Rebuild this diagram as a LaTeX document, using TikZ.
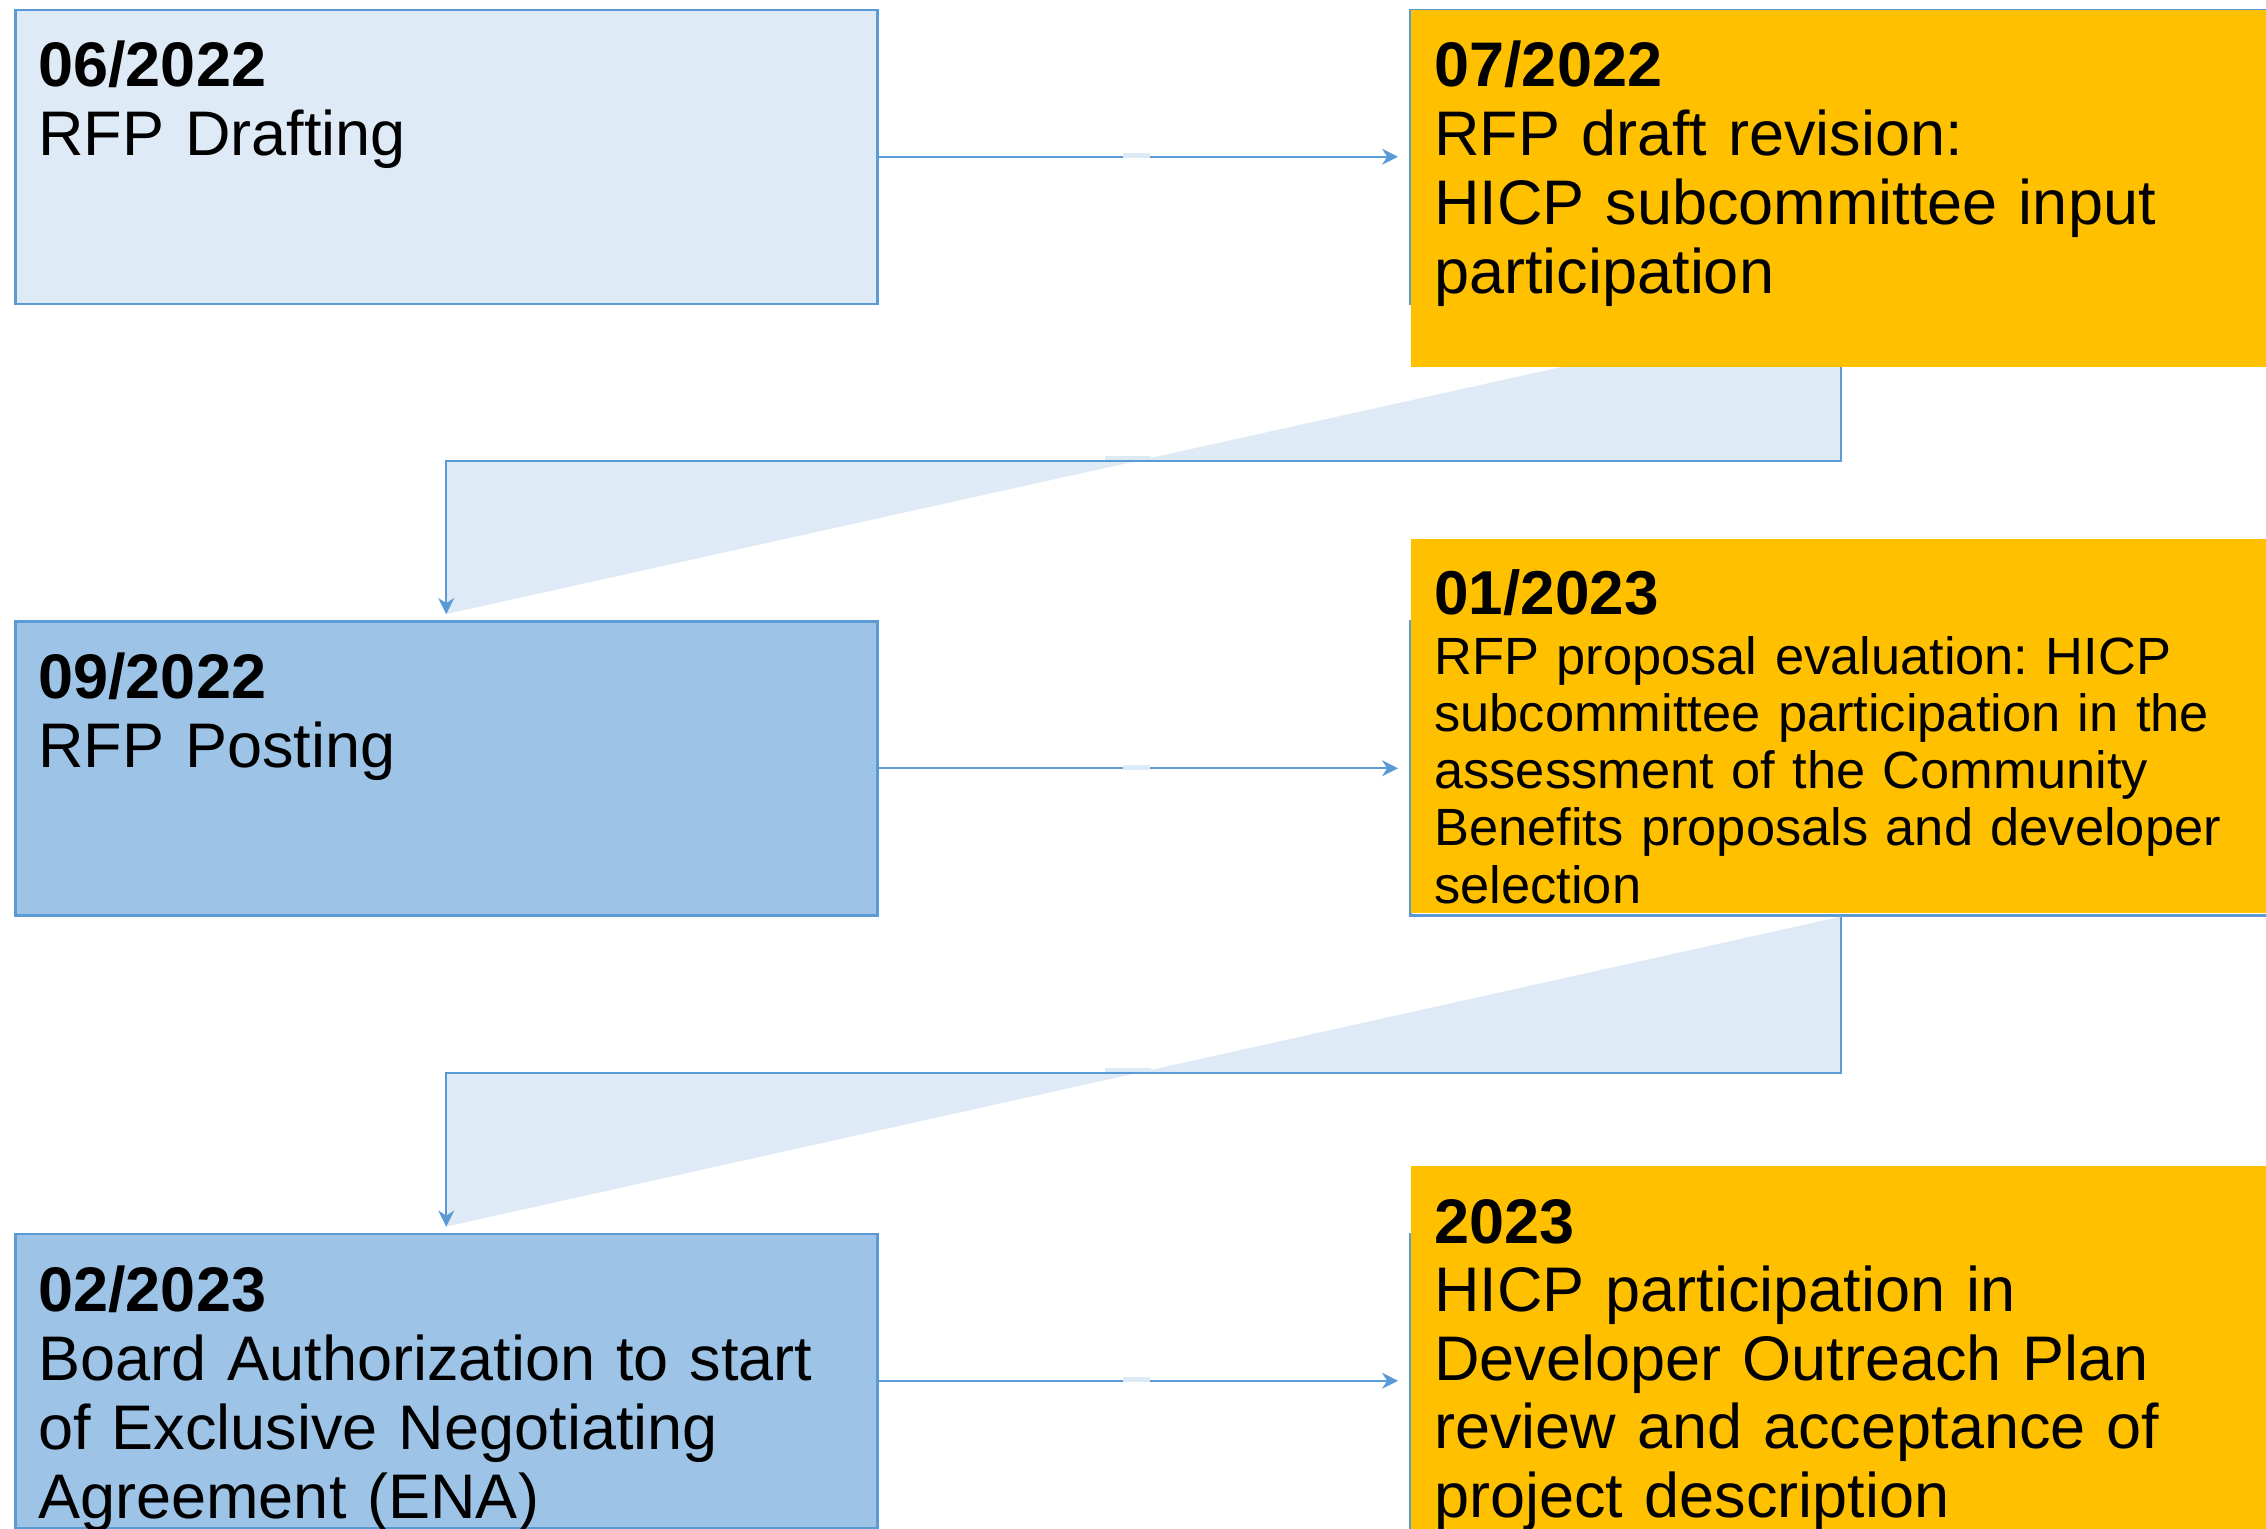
\documentclass[tikz,border=0pt]{standalone}
\usepackage{fontspec}
\setmainfont{Liberation Sans}
\usetikzlibrary{arrows.meta}
\definecolor{bordc}{RGB}{91,155,213}
\definecolor{lightc}{RGB}{222,235,247}
\definecolor{medc}{RGB}{157,195,230}
\definecolor{orangec}{RGB}{255,192,0}
\frenchspacing
\begin{document}
\begin{tikzpicture}[x=0.5pt,y=-0.5pt,
  stagebox/.style={draw=bordc,line width=1.25pt,rectangle,inner sep=0pt,anchor=north west,minimum width=431pt,minimum height=147pt},
  orangebox/.style={fill=orangec,rectangle,inner sep=0pt,anchor=north west,minimum width=429.75pt},
  flow/.style={draw=bordc,line width=1pt,-{Stealth[length=8pt,width=8pt]}},
  gapmark/.style={fill=lightc},
  txt/.style={inner sep=0pt,anchor=base west,align=left,text width=420pt},
  bigfont/.style={font=\fontsize{31.5pt}{34.5pt}\selectfont},
]
\useasboundingbox (0,0) rectangle (2266,1528);
\fill[white] (0,0) rectangle (2266,1528);

% left boxes
\node[stagebox,fill=lightc] (b1) at (14,8.5) {};
\node[stagebox,fill=medc] (b3) at (14,620) {};
\node[stagebox,fill=medc] (b5) at (14,1232.5) {};
% right outlines
\node[stagebox] (b2o) at (1409,8.5) {};
\node[stagebox] (b4o) at (1409,620) {};
\node[stagebox] (b6o) at (1409,1232.5) {};

% horizontal arrows
\draw[flow,shorten >=5.5pt] (b1.east) -- (b2o.west);
\draw[flow,shorten >=5.5pt] (b3.east) -- (b4o.west);
\draw[flow,shorten >=5.5pt] (b5.east) -- (b6o.west);
\fill[gapmark] (1123,153) rectangle (1150,157.5);
\fill[gapmark] (1123,765) rectangle (1150,769.5);
\fill[gapmark] (1123,1377) rectangle (1150,1381.5);

% elbow connectors
\coordinate (m1) at (0,461);
\coordinate (m2) at (0,1073);
\fill[lightc] (b2o.south) -- (b2o.south |- m1) -- (b3.north |- m1) -- ([yshift=3pt]b3.north) -- cycle;
\draw[flow,shorten >=3pt] (b2o.south) -- (b2o.south |- m1) -- (b3.north |- m1) -- (b3.north);
\fill[lightc] (b4o.south) -- (b4o.south |- m2) -- (b5.north |- m2) -- ([yshift=3pt]b5.north) -- cycle;
\draw[flow,shorten >=3pt] (b4o.south) -- (b4o.south |- m2) -- (b5.north |- m2) -- (b5.north);
\fill[gapmark] (1105,456) rectangle (1151,460);
\fill[gapmark] (1105,1068) rectangle (1151,1072);

% orange text boxes
\node[orangebox,minimum height=178.75pt] (o2) at (1410.5,9.5) {};
\node[orangebox,minimum height=186.75pt] (o4) at (1410.5,539) {};
\node[orangebox,minimum height=182pt] (o6) at (1410.5,1166) {};

% texts
\node[txt,bigfont] (t1) at (38,86) {\textbf{06/2022}\\RFP Drafting};
\node[txt,bigfont] (t3) at (38,698) {\textbf{09/2022}\\RFP Posting};
\node[txt,bigfont] (t5) at (38,1311) {\textbf{02/2023}\\Board Authorization to start\\of Exclusive Negotiating\\Agreement (ENA)};
\node[txt,bigfont] (t2) at (1434,86) {\textbf{07/2022}\\RFP draft revision:\\HICP subcommittee input\\participation};
\node[txt,font=\fontsize{31pt}{33pt}\selectfont\bfseries] (t4d) at (1434,614) {01/2023};
\node[txt,font=\fontsize{26.2pt}{28.65pt}\selectfont] (t4) at (1434,674) {RFP proposal evaluation: HICP\\subcommittee participation in the\\assessment of the Community\\Benefits proposals and developer\\selection};
\node[txt,font=\fontsize{31.5pt}{34.25pt}\selectfont] (t6) at (1434,1243) {\textbf{2023}\\HICP participation in\\Developer Outreach Plan\\review and acceptance of\\project description};
\end{tikzpicture}
\end{document}
